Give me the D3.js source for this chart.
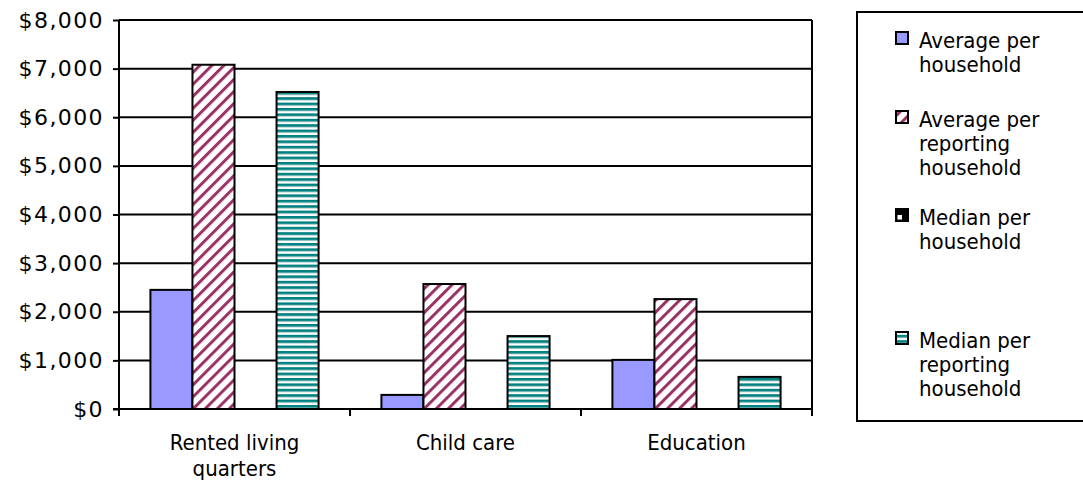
<!DOCTYPE html>
<html>
<head>
<meta charset="utf-8">
<script src="https://cdn.jsdelivr.net/npm/d3@7"></script>
<style>
  body { margin: 0; background: #fff; }
  svg text { font-family: "DejaVu Sans", Verdana, sans-serif; fill: #000; }
  svg text.cond { font-family: "DejaVu Sans Condensed", "DejaVu Sans", sans-serif; font-stretch: condensed; }
</style>
</head>
<body>
<div id="chart"></div>
<script>
// data
const categories = ["Rented living quarters", "Child care", "Education"];
const categoryLines = [["Rented living", "quarters"], ["Child care"], ["Education"]];
const seriesNames = ["Average per household", "Average per reporting household", "Median per household", "Median per reporting household"];
const legendLines = [["Average per", "household"], ["Average per", "reporting", "household"], ["Median per", "household"], ["Median per", "reporting", "household"]];
const avgPerHousehold = [2450, 290, 1010];
const avgPerReporting = [7080, 2570, 2260];
const medianPerHousehold = [0, 0, 0];
const medianPerReporting = [6520, 1500, 660];
const yTicks = [0, 1000, 2000, 3000, 4000, 5000, 6000, 7000, 8000];

const seriesValues = [avgPerHousehold, avgPerReporting, medianPerHousehold, medianPerReporting];
const fills = ["#9999ff", "url(#diag)", "url(#check)", "url(#hstripe)"];

const W = 1083, H = 485;
const plot = {left: 119, right: 812, top: 20, bottom: 409};

const svg = d3.select("#chart").append("svg")
    .attr("width", W).attr("height", H);

// patterns
const defs = svg.append("defs");
const diag = defs.append("pattern").attr("id", "diag")
    .attr("patternUnits", "userSpaceOnUse")
    .attr("width", 8.5).attr("height", 8.5)
    .attr("patternTransform", "rotate(45)");
diag.append("rect").attr("width", 8.5).attr("height", 8.5).attr("fill", "#fff");
diag.append("rect").attr("x", 0).attr("width", 3).attr("height", 8.5).attr("fill", "#993366");

const hs = defs.append("pattern").attr("id", "hstripe")
    .attr("patternUnits", "userSpaceOnUse")
    .attr("width", 8).attr("height", 5.4);
hs.append("rect").attr("width", 8).attr("height", 5.4).attr("fill", "#fff");
hs.append("rect").attr("y", 0).attr("width", 8).attr("height", 2.6).attr("fill", "#008080");
hs.append("rect").attr("y", 2.6).attr("width", 8).attr("height", 0.8).attr("fill", "#a8cccc");

const ck = defs.append("pattern").attr("id", "check")
    .attr("patternUnits", "objectBoundingBox")
    .attr("patternContentUnits", "objectBoundingBox")
    .attr("width", 1).attr("height", 1);
ck.append("rect").attr("width", 1).attr("height", 1).attr("fill", "#000");
ck.append("rect").attr("x", 0.12).attr("y", 0.5).attr("width", 0.38).attr("height", 0.38).attr("fill", "#fff");

// scales
const x0 = d3.scaleBand().domain(categories).range([plot.left, plot.right]).padding(0);
const bw = x0.bandwidth();
const x1 = d3.scaleBand().domain(seriesNames).range([bw * 0.136, bw * 0.864]).padding(0);
const y = d3.scaleLinear().domain([0, 8000]).range([plot.bottom, plot.top]);

// gridlines
svg.append("g").selectAll("line").data(yTicks.filter(d => d > 0)).join("line")
    .attr("x1", plot.left).attr("x2", plot.right)
    .attr("y1", d => y(d)).attr("y2", d => y(d))
    .attr("stroke", "#000").attr("stroke-width", 2);

// right border
svg.append("line")
    .attr("x1", plot.right).attr("x2", plot.right)
    .attr("y1", plot.top).attr("y2", plot.bottom)
    .attr("stroke", "#000").attr("stroke-width", 2);

// bars
const groups = svg.append("g").selectAll("g").data(categories).join("g")
    .attr("transform", d => `translate(${x0(d)},0)`);
groups.selectAll("rect")
    .data((c, i) => seriesNames.map((s, j) => ({s, v: seriesValues[j][i], j})))
    .join("rect")
    .filter(d => d.v > 0)
    .attr("x", d => x1(d.s))
    .attr("width", x1.bandwidth())
    .attr("y", d => y(d.v))
    .attr("height", d => y(0) - y(d.v))
    .attr("fill", d => fills[d.j])
    .attr("stroke", "#000").attr("stroke-width", 2);

// y axis
const yAxis = svg.append("g").attr("transform", `translate(${plot.left},0)`)
    .call(d3.axisLeft(y).tickValues(yTicks).tickSize(6).tickPadding(9)
        .tickFormat(d => "$" + d3.format(",")(d)));
yAxis.select(".domain").attr("stroke-width", 2).attr("d", `M0,${plot.top}V${plot.bottom}`);
yAxis.selectAll(".tick line").attr("stroke-width", 2);
yAxis.selectAll("text").style("font-size", "22px").attr("letter-spacing", "1.4px");

// x axis
const xAxis = svg.append("g").attr("transform", `translate(0,${plot.bottom})`);
xAxis.append("line").attr("x1", plot.left - 6).attr("x2", plot.right)
    .attr("stroke", "#000").attr("stroke-width", 2);
xAxis.selectAll(".xt").data(categories.map(c => x0(c)).concat([plot.right])).join("line")
    .attr("class", "xt")
    .attr("x1", d => d).attr("x2", d => d).attr("y1", 0).attr("y2", 7)
    .attr("stroke", "#000").attr("stroke-width", 2);
categories.forEach((c, i) => {
    const t = xAxis.append("text").attr("class", "cond").attr("text-anchor", "middle")
        .style("font-size", "22px")
        .attr("x", x0(c) + bw / 2);
    categoryLines[i].forEach((ln, k) => {
        t.append("tspan").attr("x", x0(c) + bw / 2).attr("y", 41 + k * 26).text(ln);
    });
});

// legend
const legend = svg.append("g");
legend.append("rect").attr("x", 857).attr("y", 12).attr("width", 260).attr("height", 409)
    .attr("fill", "#fff").attr("stroke", "#000").attr("stroke-width", 2);
const legendTop = [48, 127, 225, 348];
legendLines.forEach((lines, i) => {
    legend.append("rect").attr("x", 896).attr("y", legendTop[i] - 16)
        .attr("width", 12).attr("height", 12)
        .attr("fill", fills[i]).attr("stroke", "#000").attr("stroke-width", 2);
    const t = legend.append("text").attr("class", "cond").style("font-size", "22px");
    lines.forEach((ln, k) => {
        t.append("tspan").attr("x", 919).attr("y", legendTop[i] + k * 24).text(ln);
    });
});
</script>
</body>
</html>
